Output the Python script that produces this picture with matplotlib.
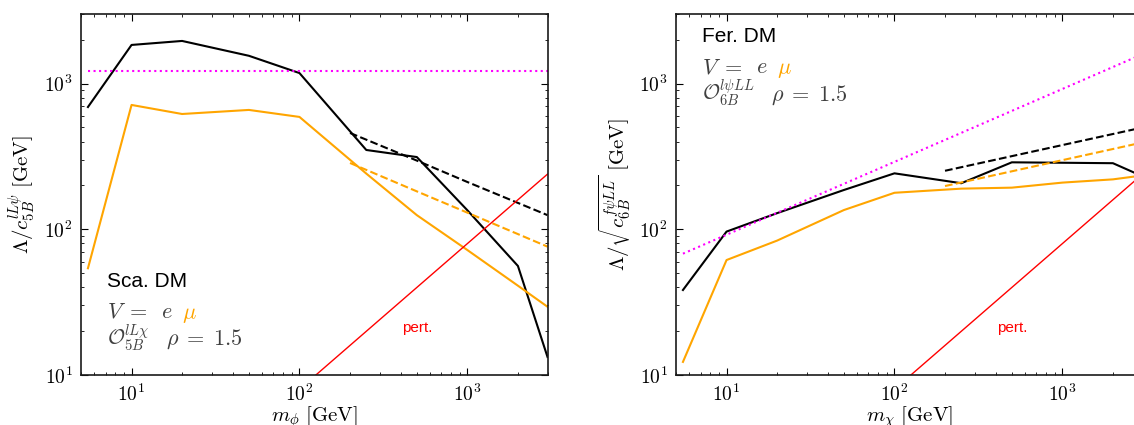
import math
import matplotlib
matplotlib.use('Agg')
import matplotlib.pyplot as plt
from matplotlib.ticker import LogLocator, FuncFormatter, NullFormatter

plt.rcParams['mathtext.fontset'] = 'cm'
plt.rcParams['font.family'] = ['Liberation Sans', 'DejaVu Sans']

# --- values (GeV) ---
# scalar DM panel
m_sca = [5.5, 10, 20, 50, 100, 250, 500, 1000, 2000, 3000]
sca_e = [690, 1840, 1960, 1550, 1180, 350, 313, 135, 56, 13.3]
sca_mu = [54, 713, 618, 659, 590, 241, 125, 72, 41, 29.4]
m_sca_dash = [200, 500, 1000, 3000]
sca_e_dash = [458, 296, 211, 125]
sca_mu_dash = [285, 182, 130, 76]
m_sca_dot = [5.5, 3000]
sca_dot = [1220, 1220]

# fermion DM panel
m_fer = [5.5, 10, 20, 50, 100, 250, 500, 1000, 2000, 3000]
fer_e = [38.3, 96.4, 129, 186, 242, 207, 288, 286, 284, 231]
fer_mu = [12.3, 61.5, 83.6, 135.5, 178, 190, 193, 209, 220, 234]
m_fer_dash = [200, 3000]
fer_e_dash = [252, 499]
fer_mu_dash = [198, 394]
m_fer_dot = [5.5, 3000]
fer_dot = [68, 1590]

# perturbativity line (same on both panels)
m_pert = [5, 3000]
pert = [0.4, 239]

ORANGE = '#ffa500'
GREY = '0.25'

fig = plt.figure(figsize=(11.34, 4.25), dpi=100)
ax1 = fig.add_axes([81 / 1134, 50 / 425, 466.5 / 1134, 361 / 425])
ax2 = fig.add_axes([676 / 1134, 50 / 425, 466.5 / 1134, 361 / 425])


def decade_label(v, pos):
    return r'$10^{%d}$' % round(math.log10(v))


def style_axis(ax, xlabel, ylabel):
    ax.set_xscale('log')
    ax.set_yscale('log')
    ax.set_xlim(5, 3000)
    ax.set_ylim(10, 3000)
    for a in (ax.xaxis, ax.yaxis):
        a.set_major_locator(LogLocator(base=10, numticks=10))
        a.set_minor_locator(LogLocator(base=10, subs=range(2, 10), numticks=20))
        a.set_major_formatter(FuncFormatter(decade_label))
        a.set_minor_formatter(NullFormatter())
    ax.tick_params(which='both', direction='in', top=True, right=True,
                   labelsize=14, pad=6)
    ax.tick_params(which='major', length=5, width=0.8)
    ax.tick_params(which='minor', length=2.5, width=0.6)
    for s in ax.spines.values():
        s.set_linewidth(1.2)
        s.set_color('0.1')
    ax.set_xlabel(xlabel, fontsize=15)
    ax.set_ylabel(ylabel, fontsize=15)
    ax.xaxis.set_label_coords(0.5, -0.08)
    ax.yaxis.set_label_coords(-0.092, 0.5)


def annotate(ax, title, op, y0, rho_x):
    # title line plus "V = e mu" and operator / rho lines
    ax.text(0.055, y0, title, transform=ax.transAxes, fontsize=15)
    y1 = y0 - 0.087
    ax.text(0.055, y1, r'$V\;=$', transform=ax.transAxes, fontsize=16, color=GREY)
    ax.text(0.171, y1, r'$e$', transform=ax.transAxes, fontsize=16, color=GREY)
    ax.text(0.216, y1, r'$\mu$', transform=ax.transAxes, fontsize=16, color=ORANGE)
    y2 = y0 - 0.162
    ax.text(0.055, y2, op, transform=ax.transAxes, fontsize=15, color=GREY)
    ax.text(rho_x, y2, r'$\rho\;=\;1.5$', transform=ax.transAxes,
            fontsize=16, color=GREY)


# left panel: scalar DM
ax1.plot(m_sca, sca_e, color='black', lw=1.5)
ax1.plot(m_sca, sca_mu, color=ORANGE, lw=1.5)
ax1.plot(m_sca_dash, sca_e_dash, color='black', lw=1.5, ls='--')
ax1.plot(m_sca_dash, sca_mu_dash, color=ORANGE, lw=1.5, ls='--')
ax1.plot(m_sca_dot, sca_dot, color='magenta', lw=1.5, ls=':')
ax1.plot(m_pert, pert, color='red', lw=1.0)
ax1.text(500, 21, 'pert.', color='red', fontsize=11, ha='center', va='center')
style_axis(ax1, r'$m_\phi\ \mathrm{[GeV]}$',
           r'$\Lambda/c_{5B}^{lL\psi}\ \mathrm{[GeV]}$')
annotate(ax1, 'Sca. DM', r'$\mathcal{O}_{5B}^{lL\chi}$', 0.245, 0.182)

# right panel: fermion DM
ax2.plot(m_fer, fer_e, color='black', lw=1.5)
ax2.plot(m_fer, fer_mu, color=ORANGE, lw=1.5)
ax2.plot(m_fer_dash, fer_e_dash, color='black', lw=1.5, ls='--')
ax2.plot(m_fer_dash, fer_mu_dash, color=ORANGE, lw=1.5, ls='--')
ax2.plot(m_fer_dot, fer_dot, color='magenta', lw=1.5, ls=':')
ax2.plot(m_pert, pert, color='red', lw=1.0)
ax2.text(500, 21, 'pert.', color='red', fontsize=11, ha='center', va='center')
style_axis(ax2, r'$m_\chi\ \mathrm{[GeV]}$',
           r'$\Lambda/\sqrt{c_{6B}^{f\psi LL}}\ \mathrm{[GeV]}$')
annotate(ax2, 'Fer. DM', r'$\mathcal{O}_{6B}^{l\psi LL}$', 0.923, 0.204)

fig.savefig('out.png', dpi=100)
